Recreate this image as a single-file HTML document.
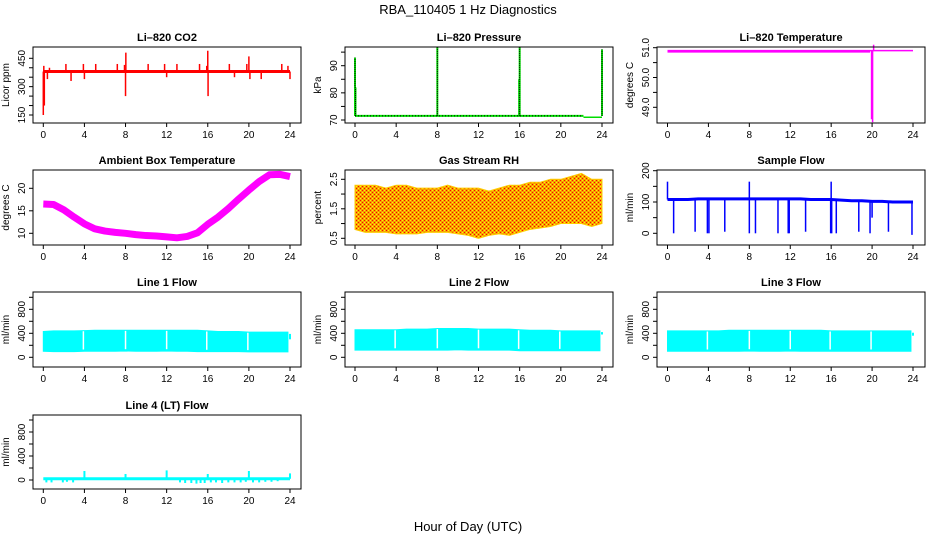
<!DOCTYPE html>
<html><head><meta charset="utf-8"><style>
body{margin:0;background:#fff}
svg{display:block;font-family:"Liberation Sans",Arial,sans-serif}
</style></head><body>
<svg id="c" width="936" height="540" xmlns="http://www.w3.org/2000/svg">
<text x="468" y="14" text-anchor="middle" font-size="13">RBA_110405  1 Hz Diagnostics</text>
<text x="468" y="531" text-anchor="middle" font-size="13">Hour of Day (UTC)</text>
<defs>
<pattern id="rhp" width="4" height="4" patternUnits="userSpaceOnUse">
<rect width="4" height="4" fill="#f5a000"/><rect x="0" y="0" width="1" height="1" fill="#ff0000"/><rect x="2" y="2" width="1" height="1" fill="#ff0000"/><rect x="2" y="0" width="1" height="1" fill="#ffff00"/><rect x="0" y="2" width="1" height="1" fill="#ffff00"/>
</pattern>
</defs>
</svg>
<script>
const xTicks=[0,4,8,12,16,20,24];
const hours=[0,1,2,3,4,5,6,7,8,9,10,11,12,13,14,15,16,17,18,19,20,21,22,23,24];
const co2Base=380;
const co2SpikeHours=[0,0.05,0.1,0.4,0.6,2.2,2.7,3.9,4,5.1,7.2,7.9,8.0,8.03,10.2,11.8,12,13,15.2,15.9,16.0,16.03,18.1,18.6,19.8,20,20.1,21.2,23.2,23.8,24];
const co2SpikeVals=[150,410,200,340,400,420,330,420,340,420,420,415,250,480,420,420,350,420,420,410,490,250,420,350,420,460,340,340,420,410,340];
const presBase=71.5;
const presSpikeHours=[0,0.05,8,15.95,16,24];
const presSpikeVals=[93,82,97,85,97,96];
const ltBase=50.9;
const ltSpikeHours=[19.95,20.05,20.15];
const ltSpikeVals=[48.6,48.5,51.1];
const ambTemp=[16.5,16.4,15.2,13.6,12.1,11.0,10.5,10.2,10.0,9.7,9.5,9.4,9.2,9.0,9.3,10.1,12.0,13.6,15.5,17.6,19.6,21.5,23.0,23.1,22.6];
const rhMin=[0.8,0.7,0.7,0.7,0.65,0.65,0.65,0.7,0.7,0.7,0.65,0.6,0.5,0.6,0.65,0.6,0.7,0.8,0.85,0.9,1.0,1.0,1.0,0.9,1.0];
const rhMax=[2.3,2.3,2.3,2.2,2.3,2.3,2.2,2.2,2.2,2.3,2.2,2.2,2.2,2.1,2.2,2.3,2.3,2.4,2.4,2.5,2.5,2.6,2.7,2.5,2.5];
const flowBase=[108,108,108,110,110,110,110,110,110,110,110,110,110,110,108,108,108,106,104,104,102,102,100,100,100];
const flowDipHours=[0.6,2.7,3.9,4.05,5.6,8.0,8.6,10.8,11.8,11.9,13.5,15.95,16.05,16.5,18.7,19.8,20.0,21.6,23.9];
const flowDipVals=[0,5,0,0,5,0,0,0,0,0,5,0,0,0,5,0,50,5,-5];
const flowSpikeHours=[0,8,16];
const flowSpikeVals=[165,165,165];
const line1Min=[100,95,95,95,100,100,100,100,105,100,100,100,105,100,100,95,95,95,95,95,90,90,90,90,300];
const line1Max=[430,440,440,440,445,450,450,450,450,450,450,450,450,450,450,450,440,430,430,430,420,420,420,420,390];
const line2Min=[120,120,120,120,120,120,120,120,120,120,125,120,120,120,120,120,110,110,110,110,110,110,110,110,380];
const line2Max=[460,460,460,460,460,470,470,470,480,480,480,480,470,470,470,470,460,450,450,450,440,440,440,440,420];
const line3Min=[100,100,100,100,100,100,100,100,105,100,100,100,105,100,100,100,100,100,100,100,100,100,100,100,360];
const line3Max=[440,440,440,440,440,440,450,450,450,450,450,450,450,450,450,450,440,440,440,440,440,440,440,440,410];
const lineGaps=[3.9,8.0,12.0,15.9,19.9];
const line4Base=20;
const line4SpikeHours=[4,8,12,16,20,24];
const line4SpikeVals=[150,100,160,100,150,110];
const line4NegHours=[0.3,0.8,1.9,2.3,2.9,13.3,13.8,14.4,14.9,15.3,15.7,16.3,16.8,17.4,18,18.6,19.2,19.7,20.4,21,21.6,22.2,22.8];
const line4NegVals=[-40,-40,-40,-30,-40,-40,-50,-50,-60,-50,-50,-40,-40,-50,-40,-40,-40,-30,-40,-40,-30,-30,-20];

const svg=document.getElementById('c');
const NS='http://www.w3.org/2000/svg';
function el(tag,attrs,parent){const e=document.createElementNS(NS,tag);for(const k in attrs)e.setAttribute(k,attrs[k]);(parent||svg).appendChild(e);return e;}
const colX=[[43.3,290],[355,602],[667.5,913]];
const boxX=[[33,301],[345,613],[657,925]];
const rowY=[[47,123],[170,245],[292,367],[415,489]];

function panel(name,col,row,title,ylab,y0px,y0v,pxPerUnit,yt,ylabels){
  const g=el('g',{});
  
  
  const [a,b]=colX[col];
  const X=h=>a+(b-a)*h/24;
  const Y=v=>y0px-(v-y0v)*pxPerUnit;
  const [bx0,bx1]=boxX[col],[by0,by1]=rowY[row];
  const t=el('text',{x:(bx0+bx1)/2,y:by0-6,'text-anchor':'middle','font-size':11,'font-weight':'bold'},g);t.textContent=title;
  
  const plot=el('g',{},g);
  const box=el('rect',{x:bx0,y:by0,width:bx1-bx0,height:by1-by0,fill:'none',stroke:'#000','stroke-width':1},g);
  
  const xa=el('g',{},g);
  
  el('line',{x1:X(0),x2:X(24),y1:by1,y2:by1,stroke:'#000'},xa);
  xTicks.forEach(h=>{el('line',{x1:X(h),x2:X(h),y1:by1,y2:by1+4,stroke:'#000'},xa);
    const tt=el('text',{x:X(h),y:by1+15,'text-anchor':'middle','font-size':10},xa);tt.textContent=h;});
  const ya=el('g',{},g);
  
  el('line',{x1:bx0,x2:bx0,y1:Y(yt[0]),y2:Y(yt[yt.length-1]),stroke:'#000'},ya);
  yt.forEach(v=>{el('line',{x1:bx0-4,x2:bx0,y1:Y(v),y2:Y(v),stroke:'#000'},ya);});
  ylabels.forEach(l=>{const v=parseFloat(l);const tx=bx0-8,ty=Y(v);
    const tt=el('text',{x:tx,y:ty,'text-anchor':'middle','font-size':10,transform:`rotate(-90 ${tx} ${ty})`},ya);tt.textContent=l;});
  const yl=el('text',{x:bx0-24,y:(by0+by1)/2,'text-anchor':'middle','font-size':10,transform:`rotate(-90 ${bx0-24} ${(by0+by1)/2})`},g);
  yl.textContent=ylab;
  return {X,Y,plot};
}
function vline(p,h,v1,v2,color,w,name){const l=el('line',{x1:p.X(h),x2:p.X(h),y1:p.Y(v1),y2:p.Y(v2),stroke:color,'stroke-width':w||1},p.plot);
  return l;}
function hline(p,h1,h2,v,color,w,name){const l=el('line',{x1:p.X(h1),x2:p.X(h2),y1:p.Y(v),y2:p.Y(v),stroke:color,'stroke-width':w},p.plot);
  return l;}

// CO2
let p=panel('co2-panel',0,0,'Li\u2013820 CO2','Licor ppm',115,150,56.7/300,[150,200,250,300,350,400,450],['150','300','450']);
hline(p,0,24,co2Base,'#ff0000',3,'co2-baseline');
co2SpikeHours.forEach((h,i)=>vline(p,h,co2Base,co2SpikeVals[i],'#ff0000',1.5,'co2-spike'));
// Pressure
p=panel('pressure-panel',1,0,'Li\u2013820 Pressure','kPa',120,70,2.715,[70,75,80,85,90,95],['70','80','90']);
hline(p,0,22.2,presBase,'#00dd00',2,'pressure-baseline');
hline(p,22.2,24,presBase-0.5,'#00dd00',1.5,'pressure-baseline-end');
presSpikeHours.forEach((h,i)=>{vline(p,h,presBase,presSpikeVals[i],'#00dd00',2,'pressure-spike');
  const d=vline(p,h,presBase,presSpikeVals[i],'#000',1,'pressure-spike-dots');d.setAttribute('stroke-dasharray','1,1');});
const pd=hline(p,0,22,presBase,'#000',1,'pressure-dots');pd.setAttribute('stroke-dasharray','1,2');
// Li temp
p=panel('li820-temp-panel',2,0,'Li\u2013820 Temperature','degrees C',107.3,49,29.8,[49,49.5,50,50.5,51],['49.0','50.0','51.0']);
hline(p,0,24,ltBase,'#ff00ff',1.5,'li820-temp-baseline');
hline(p,0,19.8,ltBase-0.03,'#ff00ff',2,'li820-temp-band');
ltSpikeHours.forEach((h,i)=>vline(p,h,ltBase,ltSpikeVals[i],'#ff00ff',1.5,'li820-temp-spike'));
// Ambient
p=panel('ambient-temp-panel',0,1,'Ambient Box Temperature','degrees C',233.3,10,4.5,[10,15,20],['10','15','20']);
{const pl=el('polyline',{points:hours.map((h,i)=>p.X(h)+','+p.Y(ambTemp[i])).join(' '),fill:'none',stroke:'#ff00ff','stroke-width':7,'stroke-linejoin':'round'},p.plot);
}
// RH
p=panel('rh-panel',1,1,'Gas Stream RH','percent',238.3,0.5,29.5,[0.5,1,1.5,2,2.5],['0.5','1.5','2.5']);
{const pts=hours.map((h,i)=>p.X(h)+','+p.Y(rhMax[i])).concat(hours.slice().reverse().map((h,j)=>p.X(h)+','+p.Y(rhMin[24-j])));
const pg=el('polygon',{points:pts.join(' '),fill:'url(#rhp)',stroke:'#ffcc00','stroke-width':1},p.plot);
}
// Sample flow
p=panel('sample-flow-panel',2,1,'Sample Flow','ml/min',233.3,0,0.313,[0,50,100,150,200],['0','100','200']);
{const pts=hours.map((h,i)=>p.X(h)+','+p.Y(flowBase[i]));
const pl=el('polyline',{points:pts.join(' '),fill:'none',stroke:'#0000ff','stroke-width':3},p.plot);
}
flowDipHours.forEach((h,i)=>vline(p,h,flowBase[Math.round(h)],flowDipVals[i],'#0000ff',1.5,'sample-flow-dip'));
flowSpikeHours.forEach((h,i)=>vline(p,h,flowBase[h],flowSpikeVals[i],'#0000ff',1.5,'sample-flow-spike'));
// Line flows
function lineFlow(name,col,row,title,mn,mx){
  const q=panel(name,col,row,title,'ml/min',357.3+(row-2)*122.7,0,0.06,[0,200,400,600,800,1000],['0','400','800']);
  const hs=hours.slice(0,24);
  const hx=h=>q.X(h===23?23.8:h);
  const pts=hs.map((h,i)=>hx(h)+','+q.Y(mx[i])).concat(hs.slice().reverse().map((h,j)=>hx(h)+','+q.Y(mn[23-j])));
  const pg=el('polygon',{points:pts.join(' '),fill:'#00ffff',stroke:'#00ffff'},q.plot);
  
  vline(q,24,mn[24],mx[24],'#00ffff',2,'flow-end');
  lineGaps.forEach(h=>vline(q,h,mn[Math.round(h)]+30,mx[Math.round(h)]-10,'#fff',1.5,'flow-gap'));
  return q;
}
lineFlow('line1-flow-panel',0,2,'Line 1 Flow',line1Min,line1Max);
lineFlow('line2-flow-panel',1,2,'Line 2 Flow',line2Min,line2Max);
lineFlow('line3-flow-panel',2,2,'Line 3 Flow',line3Min,line3Max);
p=panel('line4-flow-panel',0,3,'Line 4 (LT) Flow','ml/min',480,0,0.06,[0,200,400,600,800,1000],['0','400','800']);
hline(p,0,24,line4Base,'#00ffff',3,'line4-baseline');
line4SpikeHours.forEach((h,i)=>vline(p,h,line4Base,line4SpikeVals[i],'#00ffff',2,'line4-spike'));
line4NegHours.forEach((h,i)=>vline(p,h,line4Base,line4NegVals[i],'#00ffff',2,'line4-dip'));
</script>
</body></html>
